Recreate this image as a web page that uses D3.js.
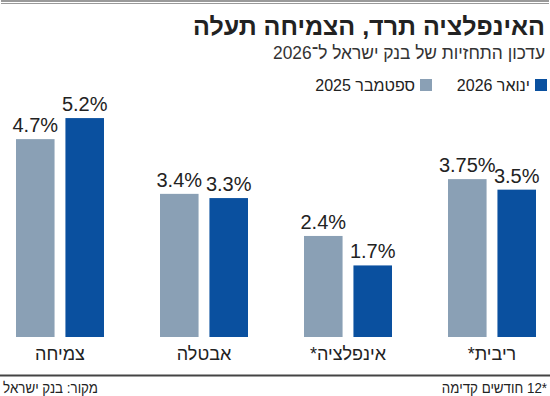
<!DOCTYPE html>
<html>
<head>
<meta charset="utf-8">
<script src="https://cdn.jsdelivr.net/npm/d3@7"></script>
<style>
  body { margin: 0; background: #fff; }
  svg text { font-family: "Liberation Sans Narrow", "Liberation Sans", sans-serif; fill: #222; }
</style>
</head>
<body>
<div id="chart"></div>
<script>
// categories, left to right as drawn
var categories = ["צמיחה", "אבטלה", "אינפלציה*", "ריבית*"];
var seriesNames = ["ספטמבר 2025", "ינואר 2026"];
var sep2025 = [4.7, 3.4, 2.4, 3.75];
var jan2026 = [5.2, 3.3, 1.7, 3.5];
var labelsSep = ["4.7%", "3.4%", "2.4%", "3.75%"];
var labelsJan = ["5.2%", "3.3%", "1.7%", "3.5%"];

var width = 550, height = 396;
var colors = ["#8aa0b5", "#0a509f"];

var svg = d3.select("#chart")
  .append("svg")
  .attr("width", width)
  .attr("height", height);

// right-aligned hebrew text, squeezed a bit to look condensed
function rtlText(x, y, size, sx, txt) {
  return svg.append("text")
    .attr("transform", "translate(" + x + "," + y + ") scale(" + sx + ",1)")
    .attr("direction", "rtl")
    .style("text-anchor", "start")
    .style("font-size", size + "px")
    .text(txt);
}

// top double rule
svg.append("rect").attr("x", 1).attr("y", 0).attr("width", 548).attr("height", 2).attr("fill", "#9a9a9a");
svg.append("rect").attr("x", 1).attr("y", 3).attr("width", 548).attr("height", 1).attr("fill", "#9a9a9a");

// title and subtitle
rtlText(545, 35, 25, 1, "האינפלציה תרד, הצמיחה תעלה")
  .style("font-weight", "bold");
rtlText(545, 59, 18, 0.965, "עדכון התחזיות של בנק ישראל ל־2026")
  .style("fill", "#333");

// legend
var legendX = [547, 432];
var legendOrder = [1, 0];
legendOrder.forEach(function(s, i) {
  svg.append("rect")
    .attr("x", legendX[i] - 12).attr("y", 79)
    .attr("width", 12).attr("height", 12)
    .attr("fill", colors[s]);
  rtlText(legendX[i] - 17, 91, 16, 1, seriesNames[s]);
});

// scales
var x0 = d3.scaleBand()
  .domain(categories)
  .range([16, 536])
  .paddingInner(0.389)
  .paddingOuter(0);

var x1 = d3.scaleBand()
  .domain([0, 1])
  .range([0, x0.bandwidth()])
  .paddingInner(0.22);

var y = d3.scaleLinear()
  .domain([0, 6])
  .range([337, 84.4]);

var rows = categories.map(function(c, i) {
  return {
    cat: c,
    bars: [
      { s: 0, v: sep2025[i], label: labelsSep[i] },
      { s: 1, v: jan2026[i], label: labelsJan[i] }
    ]
  };
});

var groups = svg.selectAll(".group")
  .data(rows)
  .enter().append("g")
  .attr("class", "group")
  .attr("transform", function(d) { return "translate(" + x0(d.cat) + ",0)"; });

groups.selectAll("rect")
  .data(function(d) { return d.bars; })
  .enter().append("rect")
  .attr("x", function(d) { return x1(d.s); })
  .attr("y", function(d) { return y(d.v); })
  .attr("width", x1.bandwidth())
  .attr("height", function(d) { return y(0) - y(d.v); })
  .attr("fill", function(d) { return colors[d.s]; });

groups.selectAll(".val")
  .data(function(d) { return d.bars; })
  .enter().append("text")
  .attr("class", "val")
  .attr("x", function(d) { return x1(d.s) + x1.bandwidth() / 2; })
  .attr("y", function(d) { return y(d.v) - 7; })
  .style("text-anchor", "middle")
  .style("font-size", "20px")
  .text(function(d) { return d.label; });

// category labels
var xAxis = d3.axisBottom(x0)
  .tickSize(0)
  .tickPadding(0);
var axisG = svg.append("g")
  .attr("transform", "translate(0,346)")
  .call(xAxis);
axisG.select(".domain").remove();
axisG.attr("font-family", null);
axisG.selectAll("text")
  .attr("dy", "0.8em")
  .attr("direction", "rtl")
  .style("text-anchor", "middle")
  .style("font-size", "18px")
  .style("fill", "#222");

// bottom rule
svg.append("rect").attr("x", 0).attr("y", 374.5).attr("width", 550).attr("height", 2).attr("fill", "#444");

// footer
rtlText(547, 393, 15, 0.89, "*12 חודשים קדימה");
rtlText(98, 393, 15, 0.89, "מקור: בנק ישראל");
</script>
</body>
</html>
